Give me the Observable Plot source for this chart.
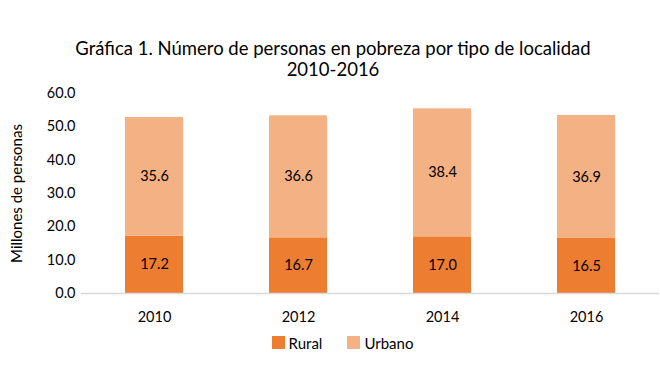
<!DOCTYPE html>
<html>
<head>
<meta charset="utf-8">
<script src="https://cdn.jsdelivr.net/npm/d3@7"></script>
<script src="https://cdn.jsdelivr.net/npm/@observablehq/plot@0.6"></script>
<style>
  html, body { margin: 0; padding: 0; background: #fff; }
  body { width: 660px; height: 368px; font-family: Lato, "Noto Sans", sans-serif; color: #000; }
  #title { padding-top: 38px; text-align: center; font-size: 18.5px; line-height: 21px; height: 42px; margin-left: 6px; }
  #chart svg { display: block; }
  #legend { display: flex; justify-content: center; margin-top: -4px; margin-left: 50px; }
  #legend .lg-swatch { margin-right: 25px !important; font-size: 15px; }
  #legend .lg-swatch svg { margin-right: 4px !important; }
</style>
</head>
<body>
<div id="title">Gráfica 1. Número de personas en pobreza por tipo de localidad<br>2010-2016</div>
<div id="chart"></div>
<div id="legend"></div>
<script>
const years = ["2010", "2012", "2014", "2016"];
const rural = [17.2, 16.7, 17.0, 16.5];
const urbano = [35.6, 36.6, 38.4, 36.9];
const tipos = ["Rural", "Urbano"];
const colores = ["#ED7D31", "#F4B183"];
const yTicks = [0, 10, 20, 30, 40, 50, 60];

const data = [];
years.forEach((y, i) => {
  data.push({year: y, tipo: "Rural", value: rural[i]});
  data.push({year: y, tipo: "Urbano", value: urbano[i]});
});

const colorScale = {domain: tipos, range: colores};

const chart = Plot.plot({
  width: 660,
  height: 250,
  marginTop: 13,
  marginBottom: 37,
  marginLeft: 81,
  marginRight: 1,
  style: {fontFamily: "Lato, 'Noto Sans', sans-serif", fontSize: "14.5px", color: "#000", background: "#fff"},
  x: {domain: years, paddingInner: 0.6, paddingOuter: 0.3, label: null},
  y: {domain: [0, 60], label: null},
  color: colorScale,
  marks: [
    Plot.barY(data, Plot.stackY({x: "year", y: "value", fill: "tipo", order: tipos})),
    Plot.ruleY([0], {stroke: "#D9D9D9", strokeWidth: 1.5}),
    Plot.text(data, Plot.stackY({x: "year", y: "value", z: "tipo", order: tipos,
      text: d => d.value.toFixed(1), fill: "#000", fontSize: 14.5})),
    Plot.axisX({tickSize: 0, tickPadding: 18, fontSize: 14.5}),
    Plot.axisY({ticks: yTicks, tickFormat: d => d.toFixed(1), tickSize: 0, tickPadding: 6,
      fontSize: 14.5, label: null}),
    Plot.text(["Millones de personas"], {frameAnchor: "left", dx: -64, rotate: -90,
      textAnchor: "middle", fontSize: 15, fill: "#000"})
  ]
});
document.getElementById("chart").appendChild(chart);

const legend = Plot.legend({color: colorScale, legend: "swatches", swatchSize: 13, className: "lg",
  style: {fontFamily: "Lato, 'Noto Sans', sans-serif", fontSize: "15px", color: "#000"}});
document.getElementById("legend").appendChild(legend);
</script>
</body>
</html>
